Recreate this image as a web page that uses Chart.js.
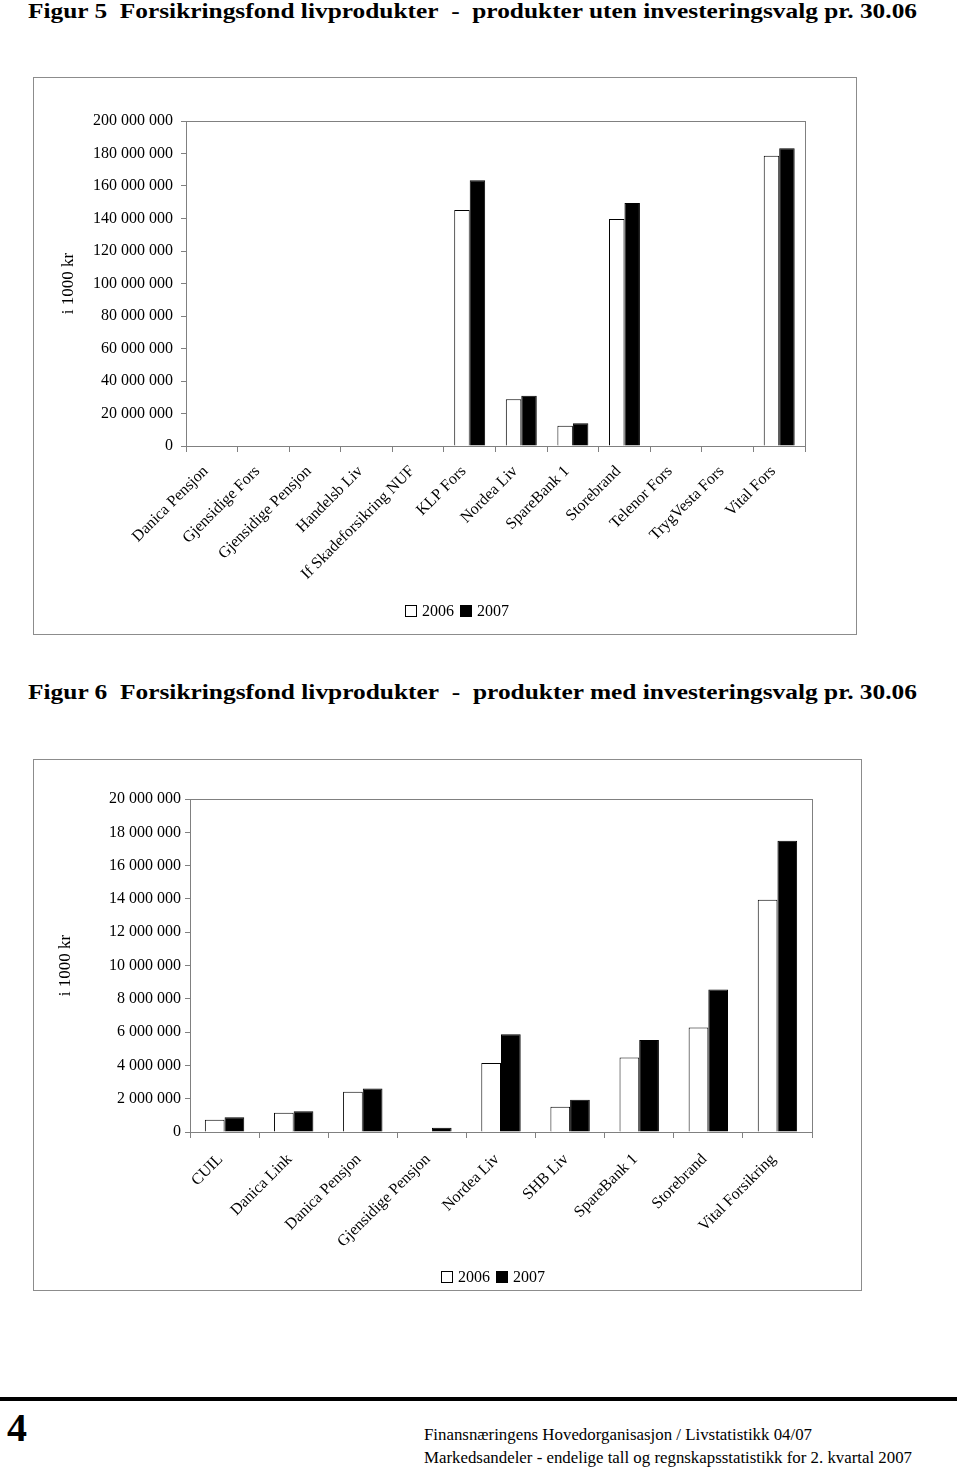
<!DOCTYPE html>
<html><head><meta charset="utf-8">
<script src="https://cdn.jsdelivr.net/npm/chart.js@4.4.1/dist/chart.umd.min.js"></script>
<style>
body{margin:0;background:#fff;width:960px;height:1470px;position:relative;overflow:hidden;font-family:"Liberation Serif","Times New Roman",serif;color:#000}
.t{position:absolute;white-space:nowrap;font-weight:bold;font-size:22px;transform-origin:0 0}
.box{position:absolute}
.frame{position:absolute;left:0;top:0;right:0;bottom:0;border:1.5px solid #8c8c8c;pointer-events:none}
.f{position:absolute;white-space:nowrap;font-size:16px;transform-origin:0 0}
.lg{position:absolute;display:flex;align-items:center;font-size:16px;line-height:20px;white-space:nowrap}
.sw{display:inline-block;width:10px;height:10px;border:1px solid #000;margin-right:5px}
</style></head><body>
<div class="t" id="t1" style="left:28px;top:-2px">Figur 5&nbsp; Forsikringsfond livprodukter&nbsp; -&nbsp; produkter uten investeringsvalg pr. 30.06</div>
<div class="box" style="left:33px;top:77px;width:824px;height:558px"><canvas id="c1" width="824" height="558"></canvas><div class="frame"></div></div>
<div class="lg" id="lg1" style="left:405px;top:601px"></div>
<div class="t" id="t2" style="left:28px;top:679px">Figur 6&nbsp; Forsikringsfond livprodukter&nbsp; -&nbsp; produkter med investeringsvalg pr. 30.06</div>
<div class="box" style="left:33px;top:759px;width:829px;height:532px"><canvas id="c2" width="829" height="532"></canvas><div class="frame"></div></div>
<div class="lg" id="lg2" style="left:441px;top:1267px"></div>
<div style="position:absolute;left:0;top:1397px;width:957px;height:4px;background:#000"></div>
<div style="position:absolute;left:7px;top:1404px;font-size:40px;font-weight:bold">4</div>
<div class="f" id="f1" style="left:424px;top:1426px">Finansnæringens Hovedorganisasjon / Livstatistikk 04/07</div>
<div class="f" id="f2" style="left:424px;top:1449px">Markedsandeler - endelige tall og regnskapsstatistikk for 2. kvartal 2007</div>
<script>
const cats1 = ['Danica Pensjon','Gjensidige Fors','Gjensidige Pensjon','Handelsb Liv','If Skadeforsikring NUF','KLP Fors','Nordea Liv','SpareBank 1','Storebrand','Telenor Fors','TrygVesta Fors','Vital Fors'];
const y2006_fig5 = [0,0,0,0,0,145300000,28800000,12500000,139700000,0,0,178600000];
const y2007_fig5 = [0,0,0,0,0,163600000,30900000,14000000,149600000,0,0,183300000];
const cats2 = ['CUIL','Danica Link','Danica Pensjon','Gjensidige Pensjon','Nordea Liv','SHB Liv','SpareBank 1','Storebrand','Vital Forsikring'];
const y2006_fig6 = [740000,1160000,2410000,0,4140000,1510000,4480000,6270000,13950000];
const y2007_fig6 = [890000,1250000,2610000,260000,5870000,1930000,5530000,8560000,17500000];
const seriesLabels = ['2006','2007'];
const seriesFill = ['#fff','#000'];
const yTitle = 'i 1000 kr';

const FONT = '"Liberation Serif","Times New Roman",serif';
const GRAY = '#808080';
function fmt(v){return String(Math.round(v)).replace(/\B(?=(\d{3})+(?!\d))/g,' ');}
const frame = {id:'frame',afterDraw(ch){const a=ch.chartArea,c=ch.ctx;c.save();c.strokeStyle=GRAY;c.lineWidth=1;c.strokeRect(Math.round(a.left)+0.5,Math.round(a.top)+0.5,Math.round(a.right-a.left),Math.round(a.bottom-a.top));c.restore();}};

function make(id, cats, a, b, max, step, cfg){
  return new Chart(document.getElementById(id),{
    type:'bar',
    data:{labels:cats,datasets:[
      {label:seriesLabels[0],data:a,backgroundColor:seriesFill[0],borderColor:'#000',borderWidth:1,categoryPercentage:cfg.cp,barPercentage:1},
      {label:seriesLabels[1],data:b,backgroundColor:seriesFill[1],borderColor:'#000',borderWidth:1,categoryPercentage:cfg.cp,barPercentage:1}
    ]},
    options:{
      responsive:false,animation:false,devicePixelRatio:1,
      layout:{padding:{left:cfg.pl,right:cfg.pr,top:cfg.pt,bottom:cfg.pb}},
      plugins:{legend:{display:false},tooltip:{enabled:false}},
      scales:{
        x:{grid:{display:true,drawOnChartArea:false,drawTicks:true,tickLength:6,color:GRAY,offset:true},border:{color:GRAY},
           ticks:{color:'#000',font:{family:FONT,size:16},maxRotation:45,minRotation:45,autoSkip:false,padding:cfg.xp,labelOffset:cfg.lo},
           afterFit(s){s.height=cfg.xh;}},
        y:{min:0,max:max,grid:{display:true,drawOnChartArea:false,drawTicks:true,tickLength:5,color:GRAY},border:{color:GRAY},
           ticks:{stepSize:step,color:'#000',font:{family:FONT,size:16},padding:cfg.yp,callback:v=>fmt(v)},
           title:{display:true,text:yTitle,color:'#000',font:{family:FONT,size:17},padding:{top:0,bottom:0}},
           afterFit(s){s.width=cfg.yw;}}
      }
    },
    plugins:[frame]
  });
}
make('c1',cats1,y2006_fig5,y2007_fig5,200000000,20000000,{cp:0.6,pl:25,pr:52,pt:44,pb:9,xh:180,yw:128,xp:10,lo:-6,yp:8});
make('c2',cats2,y2006_fig6,y2007_fig6,20000000,2000000,{cp:0.57,pl:22,pr:50,pt:40,pb:9,xh:150,yw:135,xp:12,lo:-4,yp:4});

function legend(id){
  const el=document.getElementById(id);
  seriesLabels.forEach((l,i)=>{
    const s=document.createElement('span');s.className='sw';s.style.background=seriesFill[i];
    const t=document.createElement('span');t.textContent=l;t.style.marginRight=(i===0?'6px':'0');
    el.appendChild(s);el.appendChild(t);
  });
}
legend('lg1');legend('lg2');
function fit(id,w){const e=document.getElementById(id);const r=e.getBoundingClientRect().width;e.style.transform='scaleX('+(w/r)+')';}
fit('t1',889);fit('t2',889);fit('f1',388);fit('f2',488);
</script>
</body></html>
